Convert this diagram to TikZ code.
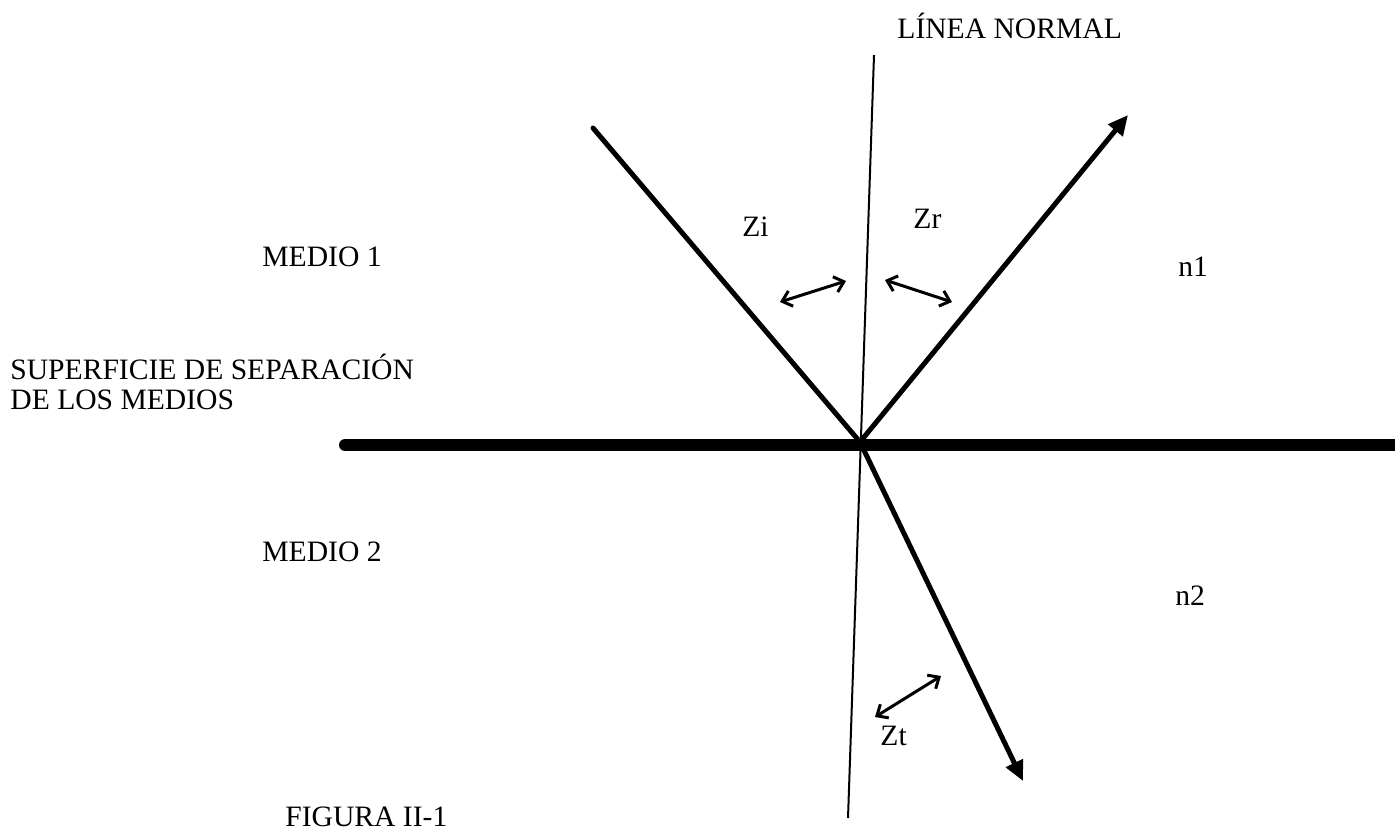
\documentclass[tikz,border=0pt]{standalone}
\usepackage{fontspec}
\setmainfont{Liberation Serif}
\usetikzlibrary{arrows.meta}
\begin{document}
\begin{tikzpicture}[x=0.5pt,y=-0.5pt,
  lbl/.style={anchor=base west,inner sep=0pt,font=\fontsize{14.8}{17}\selectfont},
  ray/.style={line width=2.5pt,line cap=round},
  raytip/.style={ray,-{Triangle[length=10pt,width=9pt]}},
  angarrow/.style={line width=1.5pt,{Straight Barb[length=4.5pt,width=8pt]}-{Straight Barb[length=4.5pt,width=8pt]}}]
\useasboundingbox[fill=white] (0,0) rectangle (1395,830);
% coordinates
\coordinate (N1) at (874,55);
\coordinate (N2) at (848,818);
\coordinate (O) at (860,442);
\coordinate (I) at (593,128);
\coordinate (R) at (1128,115);
\coordinate (T) at (1023,781);
\coordinate (S1) at (345,445);
\coordinate (S2) at (1395,445);
\coordinate (a1) at (780,302); \coordinate (a2) at (846,281);
\coordinate (b1) at (885,280); \coordinate (b2) at (952,302);
\coordinate (c1) at (875,717); \coordinate (c2) at (941,676);
% lines
\draw[line width=1pt] (N1) -- (N2);
\draw[line width=6pt,line cap=round] (S1) -- (S2);
\draw[ray] (I) -- (O);
\draw[raytip] (O) -- (R);
\draw[raytip] (O) -- (T);
\draw[angarrow] (a1) -- (a2);
\draw[angarrow] (b1) -- (b2);
\draw[angarrow] (c1) -- (c2);
% labels
\node[lbl] (tnormal) at (897,39) {LÍNEA NORMAL};
\node[lbl] (tzi) at (742,236) {Zi};
\node[lbl] (tzr) at (913,228) {Zr};
\node[lbl] (tm1) at (262,266) {MEDIO 1};
\node[lbl] (tn1) at (1178,276) {n1};
\node[lbl] (tsup1) at (10,379) {SUPERFICIE DE SEPARACIÓN};
\node[lbl] (tsup2) at (10,409) {DE LOS MEDIOS};
\node[lbl] (tm2) at (262,561) {MEDIO 2};
\node[lbl] (tn2) at (1175,605) {n2};
\node[lbl] (tzt) at (880,745) {Zt};
\node[lbl] (tfig) at (285,826) {FIGURA II-1};
\end{tikzpicture}
\end{document}
